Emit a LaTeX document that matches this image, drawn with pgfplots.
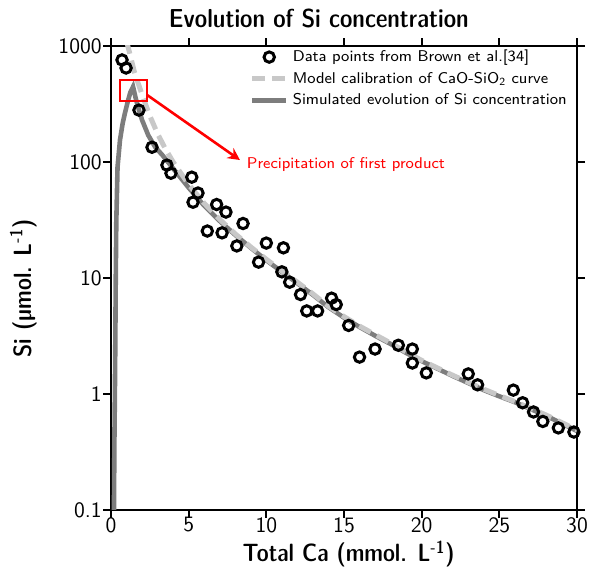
\documentclass[border=0pt]{standalone}
\usepackage{pgfplots}
\pgfplotsset{compat=1.18}
\usetikzlibrary{arrows.meta}
\definecolor{lgray}{RGB}{200,200,200}
\definecolor{dgray}{RGB}{125,125,125}
\pgfplotstableread{
x y
0.71 758
0.97 646
1.8 280
2.64 134
3.6 94
3.86 80
5.2 74
5.6 54
5.28 45
6.8 43
7.4 37
8.5 29.5
6.2 25.4
7.15 24.5
8.1 18.9
10.0 20
11.1 18.2
9.5 13.7
11.0 11.3
11.5 9.2
12.2 7.2
12.6 5.2
13.3 5.2
14.2 6.7
14.5 5.9
15.3 3.9
16.0 2.08
17.0 2.44
18.5 2.63
19.4 2.44
19.4 1.85
20.3 1.52
23.0 1.49
23.6 1.2
25.9 1.08
26.5 0.84
27.2 0.70
27.8 0.58
28.8 0.51
29.8 0.47
}\datatable
\pgfplotstableread{
x y
1.0 1100
1.2 870
1.5 600
2.0 380
2.5 250
3.0 175
3.5 130
4.0 100
4.5 80
5.0 64
6.0 44
7.0 32
8.0 24
9.0 18.5
10.0 14.5
11.0 11.5
12.0 9.2
13.0 7.3
14.0 5.7
15.0 4.65
16.0 3.85
17.0 3.25
18.0 2.75
19.0 2.3
20.0 1.95
22.0 1.45
24.0 1.1
25.0 0.97
26.0 0.86
28.0 0.66
30.0 0.49
}\modeltable
\pgfplotstableread{
x y
0.19 0.1
0.22 0.4
0.25 1
0.28 3
0.30 8
0.34 30
0.42 90
0.58 155
0.75 215
0.9 265
1.1 340
1.25 400
1.42 445
1.6 350
1.8 280
2.0 230
2.4 170
2.85 134
3.3 115
4.0 88
5.0 60
6.0 42
7.0 31
8.0 23.5
9.0 18.2
10.0 14.2
11.0 11.3
12.0 9.0
13.0 7.15
14.0 5.6
15.0 4.55
16.0 3.78
17.0 3.18
18.0 2.7
19.0 2.26
20.0 1.92
22.0 1.43
24.0 1.08
25.0 0.955
26.0 0.85
28.0 0.65
30.0 0.48
}\simtable
\begin{document}
\begin{tikzpicture}
\begin{semilogyaxis}[
  name=ax,
  scale only axis, width=233pt, height=232pt,
  xmin=0, xmax=30, ymin=0.1, ymax=1000,
  xtick={0,5,10,15,20,25,30},
  xticklabels={0,5,10,15,20,25,30},
  ytick={0.1,1,10,100,1000},
  yticklabels={0.1,1,10,100,1000},
  yminorticks=false,
  tick align=outside, major tick length=4pt,
  axis line style={line width=1.1pt},
  every tick/.style={black, line width=1pt},
  ticklabel style={font=\sffamily\fontsize{11}{13}\selectfont},
  xticklabel style={inner sep=0.5pt, yshift=1pt},
  yticklabel style={inner sep=0.5pt, xshift=0pt},
  xlabel={Total Ca (mmol. L\textsuperscript{-1})},
  ylabel={Si (µmol. L\textsuperscript{-1})},
  label style={font=\sffamily\fontseries{sbc}\fontsize{12.5}{14}\selectfont},
  xlabel style={at={(rel axis cs:0.51,-0.095)}, anchor=center},
  ylabel style={at={(rel axis cs:-0.188,0.478)}, anchor=center},
  title={Evolution of Si concentration},
  every axis title shift=0pt,
  title style={font=\sffamily\fontseries{sbc}\fontsize{13}{15}\selectfont, at={(rel axis cs:0.446,1.06)}, anchor=center},
  legend style={at={(1.0,1.01)}, anchor=north east, draw=none, fill=none,
    font=\sffamily\fontsize{7.8}{9}\selectfont, row sep=-0.3pt},
  legend cell align=left,
]
\addplot[only marks, mark=o, mark size=2.6pt, mark options={line width=1.5pt, black}] table[x=x,y=y]{\datatable};
\addlegendentry{Data points from Brown et al.[34]}
\addplot[dgray, line width=2.3pt, forget plot] table[x=x,y=y]{\simtable};
\addplot[lgray, line width=2.5pt, dash pattern=on 6.5pt off 3.5pt, forget plot] table[x=x,y=y]{\modeltable};
\addlegendimage{lgray, line width=2.5pt, dash pattern=on 6.5pt off 3.5pt}
\addlegendentry{Model calibration of CaO-SiO\textsubscript{2} curve}
\addlegendimage{dgray, line width=2.3pt}
\addlegendentry{Simulated evolution of Si concentration}
\draw[red, line width=1.2pt] (axis cs:0.58,336) rectangle (axis cs:2.3,509);
\draw[red, line width=1.3pt, -{Stealth[length=6pt,width=6pt]}] (axis cs:2.3,380) -- (axis cs:8.3,104);
\node[red, anchor=west, font=\sffamily\fontsize{7.8}{9}\selectfont, inner sep=1pt] at (axis cs:8.6,95) {Precipitation of first product};
\end{semilogyaxis}
\pgfresetboundingbox
\path ([shift={(-55.5pt,-32.5pt)}]ax.south west) rectangle ([shift={(7.5pt,23pt)}]ax.north east);
\end{tikzpicture}
\end{document}
